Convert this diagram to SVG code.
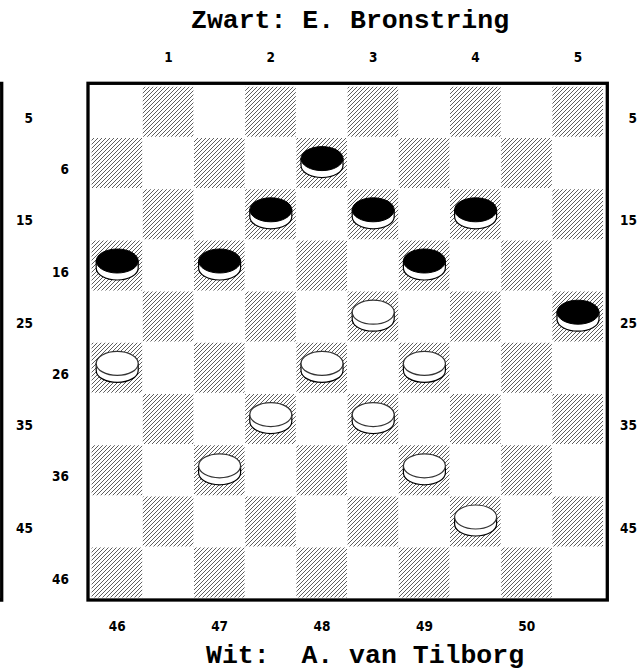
<svg xmlns="http://www.w3.org/2000/svg" width="638" height="668" viewBox="0 0 638 668">
<style>
.title{font-family:"Liberation Mono","Courier New",monospace;font-weight:bold;font-size:26.5px;fill:#000}
.num{font-family:"Liberation Sans Narrow","Arial Narrow","DejaVu Sans Condensed","Liberation Sans",sans-serif;font-stretch:condensed;font-weight:bold;font-size:13.5px;fill:#000}
.mid{text-anchor:middle}
.end{text-anchor:end}
.border{fill:none;stroke:#000;stroke-width:3.3}
.side{fill:#fff;stroke:#000;stroke-width:1.2}
</style>
<defs>
<pattern id="hatch" patternUnits="userSpaceOnUse" width="4" height="4">
<path d="M-1,1 L1,-1 M0,4 L4,0 M3,5 L5,3" stroke="#555" stroke-width="0.95"/>
</pattern>
<g id="bp">
<path class="side" d="M-21,-5 V2 A21,12 0 0 0 21,2 V-5 Z"/>
<ellipse cx="0" cy="-5" rx="21" ry="12" fill="#000" stroke="#000" stroke-width="1"/>
</g>
<g id="wp">
<path class="side" d="M-21,-5 V2 A21,12 0 0 0 21,2 V-5 Z"/>
<ellipse cx="0" cy="-5" rx="21" ry="12" fill="#fff" stroke="#333" stroke-width="1.2"/>
</g>
</defs>
<rect width="638" height="668" fill="#fff"/>

<text class="title" x="191" y="28.3">Zwart: E. Bronstring</text>
<text class="title" x="206" y="663" xml:space="preserve">Wit:  A. van Tilborg</text>

<path class="border" d="M-5,83.3 H1.7 V600 H-5"/>

<g id="board">
<path fill="url(#hatch)" d="M142.8,86.8h50.6v50h-50.6z M245.2,86.8h50.6v50h-50.6z M347.6,86.8h50.6v50h-50.6z M450,86.8h50.6v50h-50.6z M552.4,86.8h50.6v50h-50.6z
M91.6,138h50.6v50h-50.6z M194,138h50.6v50h-50.6z M296.4,138h50.6v50h-50.6z M398.8,138h50.6v50h-50.6z M501.2,138h50.6v50h-50.6z
M142.8,189.2h50.6v50h-50.6z M245.2,189.2h50.6v50h-50.6z M347.6,189.2h50.6v50h-50.6z M450,189.2h50.6v50h-50.6z M552.4,189.2h50.6v50h-50.6z
M91.6,240.4h50.6v50h-50.6z M194,240.4h50.6v50h-50.6z M296.4,240.4h50.6v50h-50.6z M398.8,240.4h50.6v50h-50.6z M501.2,240.4h50.6v50h-50.6z
M142.8,291.6h50.6v50h-50.6z M245.2,291.6h50.6v50h-50.6z M347.6,291.6h50.6v50h-50.6z M450,291.6h50.6v50h-50.6z M552.4,291.6h50.6v50h-50.6z
M91.6,342.8h50.6v50h-50.6z M194,342.8h50.6v50h-50.6z M296.4,342.8h50.6v50h-50.6z M398.8,342.8h50.6v50h-50.6z M501.2,342.8h50.6v50h-50.6z
M142.8,394h50.6v50h-50.6z M245.2,394h50.6v50h-50.6z M347.6,394h50.6v50h-50.6z M450,394h50.6v50h-50.6z M552.4,394h50.6v50h-50.6z
M91.6,445.2h50.6v50h-50.6z M194,445.2h50.6v50h-50.6z M296.4,445.2h50.6v50h-50.6z M398.8,445.2h50.6v50h-50.6z M501.2,445.2h50.6v50h-50.6z
M142.8,496.4h50.6v50h-50.6z M245.2,496.4h50.6v50h-50.6z M347.6,496.4h50.6v50h-50.6z M450,496.4h50.6v50h-50.6z M552.4,496.4h50.6v50h-50.6z
M91.6,547.6h50.6v50h-50.6z M194,547.6h50.6v50h-50.6z M296.4,547.6h50.6v50h-50.6z M398.8,547.6h50.6v50h-50.6z M501.2,547.6h50.6v50h-50.6z"/>
<rect class="border" x="88" y="83.3" width="519.3" height="516.7"/>
</g>

<g id="labels">
<text class="num mid" x="168.4" y="62">1</text>
<text class="num mid" x="270.8" y="62">2</text>
<text class="num mid" x="373.2" y="62">3</text>
<text class="num mid" x="475.6" y="62">4</text>
<text class="num mid" x="578" y="62">5</text>
<text class="num mid" x="117.2" y="631">46</text>
<text class="num mid" x="219.6" y="631">47</text>
<text class="num mid" x="322" y="631">48</text>
<text class="num mid" x="424.4" y="631">49</text>
<text class="num mid" x="526.8" y="631">50</text>
<text class="num end" x="33" y="123">5</text>
<text class="num end" x="69" y="174.2">6</text>
<text class="num end" x="33" y="225.4">15</text>
<text class="num end" x="69" y="276.6">16</text>
<text class="num end" x="33" y="327.8">25</text>
<text class="num end" x="69" y="379">26</text>
<text class="num end" x="33" y="430.2">35</text>
<text class="num end" x="69" y="481.4">36</text>
<text class="num end" x="33" y="532.6">45</text>
<text class="num end" x="69" y="583.8">46</text>
<text class="num end" x="637" y="123">5</text>
<text class="num end" x="637" y="225.4">15</text>
<text class="num end" x="637" y="327.8">25</text>
<text class="num end" x="637" y="430.2">35</text>
<text class="num end" x="637" y="532.6">45</text>
</g>

<g id="black-pieces">
<use id="b8" href="#bp" x="322" y="163.6"/>
<use id="b12" href="#bp" x="270.8" y="214.8"/>
<use id="b13" href="#bp" x="373.2" y="214.8"/>
<use id="b14" href="#bp" x="475.6" y="214.8"/>
<use id="b16" href="#bp" x="117.2" y="266"/>
<use id="b17" href="#bp" x="219.6" y="266"/>
<use id="b19" href="#bp" x="424.4" y="266"/>
<use id="b25" href="#bp" x="578" y="317.2"/>
</g>
<g id="white-pieces">
<use id="w23" href="#wp" x="373.2" y="317.2"/>
<use id="w26" href="#wp" x="117.2" y="368.4"/>
<use id="w28" href="#wp" x="322" y="368.4"/>
<use id="w29" href="#wp" x="424.4" y="368.4"/>
<use id="w32" href="#wp" x="270.8" y="419.6"/>
<use id="w33" href="#wp" x="373.2" y="419.6"/>
<use id="w37" href="#wp" x="219.6" y="470.8"/>
<use id="w39" href="#wp" x="424.4" y="470.8"/>
<use id="w44" href="#wp" x="475.6" y="522"/>
</g>
</svg>
